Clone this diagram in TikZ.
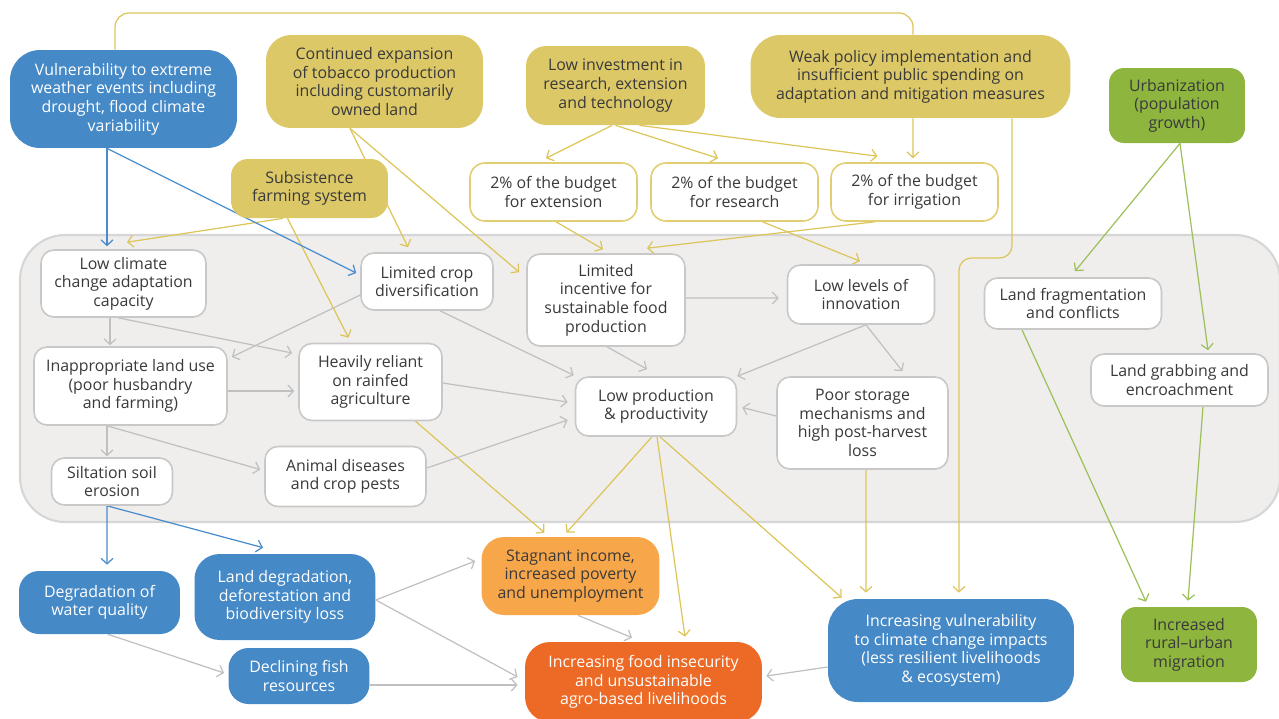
\documentclass[tikz,border=0pt]{standalone}
\usepackage{fontspec}
\setmainfont{Open Sans}
\usetikzlibrary{arrows.meta,calc}
\definecolor{sky}{HTML}{4589C7}
\definecolor{ochre}{HTML}{DCC867}
\definecolor{leaf}{HTML}{8EB53E}
\definecolor{amber}{HTML}{F7A74A}
\definecolor{flame}{HTML}{EC6A25}
\definecolor{haze}{HTML}{EFEEED}
\definecolor{hazeline}{HTML}{D6D6D6}
\definecolor{edge}{HTML}{C8C8C8}
\definecolor{ink}{HTML}{3A3A3B}
\definecolor{yline}{HTML}{DCC55A}
\definecolor{budgetline}{HTML}{E2CE72}
\definecolor{bline}{HTML}{4A8BCB}
\definecolor{gline}{HTML}{C0C0C0}
\definecolor{vline}{HTML}{9CC05A}
\pgfdeclarelayer{back}
\pgfdeclarelayer{links}
\pgfsetlayers{back,links,main}
\tikzset{link/.style={-{Straight Barb[length=1.1mm,width=2.4mm]},line width=0.7pt},
  ylink/.style={link,draw=yline},
  blink/.style={link,draw=bline},
  glink/.style={link,draw=gline},
  vlink/.style={link,draw=vline},
  box/.style={rounded corners=5mm,align=center,inner sep=2pt,font={\fontsize{9.05}{10.6}\selectfont}},
  bluebox/.style={box,fill=sky,text=white},
  ochrebox/.style={box,fill=ochre,text=ink},
  leafbox/.style={box,fill=leaf,text=ink,rounded corners=3mm},
  whitebox/.style={box,draw=edge,fill=white,line width=0.9pt,text=ink,rounded corners=2.6mm},
  budget/.style={whitebox,draw=budgetline,rounded corners=3mm,minimum width=3.34cm,minimum height=1.16cm}}

\begin{document}
\begin{tikzpicture}[x=0.02cm,y=-0.02cm]
\useasboundingbox (0,0) rectangle (1279,718);
\begin{pgfonlayer}{back}
\draw[fill=haze,draw=hazeline,line width=1.2pt,rounded corners=9mm] (20,235) rectangle (1280,522);
\end{pgfonlayer}
\node[bluebox,minimum width=4.54cm,minimum height=1.96cm,rounded corners=6mm] (vuln) at (123.5,99) {Vulnerability to extreme\\weather events including\\drought, flood climate\\variability};
\node[ochrebox,minimum width=4.34cm,minimum height=1.86cm] (tobacco) at (374.5,81.5) {Continued expansion\\of tobacco production\\including customarily\\owned land};
\node[ochrebox,minimum width=3.58cm,minimum height=1.58cm,rounded corners=4mm] (lowinv) at (615.5,85.5) {Low investment in\\research, extension\\and technology};
\node[ochrebox,minimum width=6.4cm,minimum height=1.66cm,rounded corners=6mm] (weakpol) at (910.5,76.5) {Weak policy implementation and\\insufficient public spending on\\adaptation and mitigation measures};
\node[leafbox,minimum width=2.72cm,minimum height=1.5cm] (urban) at (1177,105.5) {Urbanization\\(population\\growth)};
\node[ochrebox,minimum width=3.14cm,minimum height=1.18cm,rounded corners=3.4mm] (subsist) at (309.5,188.5) {Subsistence\\farming system};
\node[budget] (bext) at (553.5,192) {2\% of the budget\\for extension};
\node[budget] (bres) at (734.5,192) {2\% of the budget\\for research};
\node[budget] (birr) at (914.5,192) {2\% of the budget\\for irrigation};
\node[whitebox,minimum width=3.3cm,minimum height=1.34cm] (lowclim) at (123.5,283.5) {Low climate\\change adaptation\\capacity};
\node[whitebox,minimum width=2.64cm,minimum height=1.14cm] (limcrop) at (427,281.5) {Limited crop\\diversification};
\node[whitebox,minimum width=3.16cm,minimum height=1.84cm] (limincent) at (606,300) {Limited\\incentive for\\sustainable food\\production};
\node[whitebox,minimum width=2.94cm,minimum height=1.18cm] (lowinno) at (861,294.5) {Low levels of\\innovation};
\node[whitebox,minimum width=3.54cm,minimum height=1.02cm] (landfrag) at (1073,303.5) {Land fragmentation\\and conflicts};
\node[whitebox,minimum width=3.54cm,minimum height=1.04cm] (landgrab) at (1179.5,380) {Land grabbing and\\encroachment};
\node[whitebox,minimum width=3.86cm,minimum height=1.56cm] (inapp) at (130.5,386) {Inappropriate land use\\(poor husbandry\\and farming)};
\node[whitebox,minimum width=2.86cm,minimum height=1.54cm] (heavy) at (370.5,382) {Heavily reliant\\on rainfed\\agriculture};
\node[whitebox,minimum width=3.22cm,minimum height=1.18cm] (lowprod) at (656,406.5) {Low production\\\& productivity};
\node[whitebox,minimum width=3.42cm,minimum height=1.84cm] (poorstor) at (862.5,423) {Poor storage\\mechanisms and\\high post-harvest\\loss};
\node[whitebox,minimum width=2.42cm,minimum height=0.94cm] (silt) at (112,481.5) {Siltation soil\\erosion};
\node[whitebox,minimum width=3.22cm,minimum height=1.2cm] (animal) at (345.5,476.5) {Animal diseases\\and crop pests};
\node[bluebox,minimum width=3.22cm,minimum height=1.26cm,rounded corners=4mm] (degwater) at (99.5,602.5) {Degradation of\\water quality};
\node[bluebox,minimum width=3.62cm,minimum height=1.72cm] (landdeg) at (285,597) {Land degradation,\\deforestation and\\biodiversity loss};
\node[bluebox,minimum width=2.82cm,minimum height=1.12cm,rounded corners=4mm] (fish) at (299,676) {Declining fish\\resources};
\node[box,fill=amber,text=ink,minimum width=3.56cm,minimum height=1.56cm,rounded corners=4.5mm] (stagnant) at (570.5,576) {Stagnant income,\\increased poverty\\and unemployment};
\node[box,fill=flame,text=white,minimum width=4.74cm,minimum height=1.6cm] (foodinsec) at (643.5,682) {Increasing food insecurity\\and unsustainable\\agro-based livelihoods};
\node[bluebox,minimum width=4.92cm,minimum height=2.06cm,rounded corners=6mm] (incvuln) at (951,650.5) {Increasing vulnerability\\to climate change impacts\\(less resilient livelihoods\\\& ecosystem)};
\node[leafbox,minimum width=2.72cm,minimum height=1.5cm] (migration) at (1189,644.5) {Increased\\rural--urban\\migration};
\coordinate (topbend) at (913,13);
\coordinate (sidebend) at (959,258);
\begin{pgfonlayer}{links}
\draw[draw=yline,line width=0.7pt,rounded corners=8pt] ($(vuln.north)+(-8.5,0)$) |- (topbend) -- ($(weakpol.north)+(2.5,0)$);
\draw[ylink] ($(weakpol.south)+(2.5,0)$) -- ($(birr.north)+(-1.5,-4)$);
\draw[ylink,rounded corners=7pt] ($(weakpol.south)+(101.5,0)$) |- (sidebend) -- ($(incvuln.north)+(8,-6)$);
\draw[ylink] ($(poorstor.south)+(3.5,0)$) -- ($(incvuln.north)+(-85,-6)$);
\draw[ylink] ($(lowprod.south)+(4,0)$) -- ($(incvuln.north west)+(14,-1)$);
\draw[ylink] ($(lowprod.south)+(1,0)$) -- ($(foodinsec.north)+(41.5,-5)$);
\draw[ylink] ($(lowprod.south)+(-4,0)$) -- ($(stagnant.north)+(-4,-4)$);
\draw[ylink] ($(heavy.south)+(45,0)$) -- ($(stagnant.north)+(-26,-4)$);
\draw[ylink] ($(lowinv.south)+(-3.5,0)$) -- ($(bext.north)+(-7.5,-4)$);
\draw[ylink] (lowinv.south) -- ($(bres.north)+(-16.5,-4)$);
\draw[ylink] ($(lowinv.south)+(24,0)$) -- ($(birr.north)+(-37,-6)$);
\draw[ylink] ($(bext.south)+(2.5,0)$) -- ($(limincent.north)+(-3,-4)$);
\draw[ylink] ($(birr.south)+(-39.5,0)$) -- ($(limincent.north)+(41,-5)$);
\draw[ylink] ($(bres.south)+(28,0)$) -- ($(lowinno.north)+(-1,-3)$);
\draw[ylink] ($(tobacco.south)+(-24.5,0)$) -- ($(limcrop.north)+(-19,-5)$);
\draw[ylink] ($(tobacco.south)+(-24.5,0)$) -- ($(limincent.north west)+(-7,19)$);
\draw[ylink] ($(subsist.south)+(-26.5,0)$) -- ($(lowclim.north)+(3.5,-7)$);
\draw[ylink] ($(subsist.south)+(-22,0)$) -- ($(heavy.north)+(-22,-5)$);
\draw[blink] ($(vuln.south)+(-16.5,0)$) -- ($(lowclim.north)+(-16.5,-3)$);
\draw[blink] ($(vuln.south)+(-16.5,0)$) -- ($(limcrop.west)+(-4,-8.5)$);
\draw[blink] ($(silt.south)+(-5,0)$) -- ($(degwater.north)+(7.5,-6)$);
\draw[blink] ($(silt.south)+(-5,0)$) -- ($(landdeg.north)+(-22,-6)$);
\draw[glink] ($(lowclim.south)+(-13.5,0)$) -- ($(inapp.north)+(-20.5,-1)$);
\draw[glink] ($(lowclim.south)+(-5.5,0)$) -- ($(heavy.west)+(-6,-29)$);
\draw[glink] ($(limcrop.west)+(0,13.5)$) -- ($(inapp.east)+(4,-29)$);
\draw[glink] ($(inapp.east)+(0,5)$) -- ($(heavy.west)+(-4,9)$);
\draw[glink] ($(inapp.south)+(-23.5,0)$) -- ($(silt.north)+(-5,-1)$);
\draw[glink] ($(inapp.south)+(-23.5,0)$) -- ($(animal.west)+(-4,-7)$);
\draw[glink] ($(animal.east)+(0,-8.5)$) -- ($(lowprod.west)+(-7,13.5)$);
\draw[glink] ($(heavy.east)+(0,1)$) -- ($(lowprod.west)+(-7,-4.5)$);
\draw[glink] ($(limcrop.south)+(13,0)$) -- ($(lowprod.north west)+(-1,-1)$);
\draw[glink] ($(limincent.south)+(1,0)$) -- ($(lowprod.north)+(-9,-7)$);
\draw[glink] ($(limincent.east)+(0,-2)$) -- ($(lowinno.west)+(-8,3.5)$);
\draw[glink] ($(lowinno.south)+(5,0)$) -- (lowprod.north east);
\draw[glink] ($(lowinno.south)+(5,0)$) -- ($(poorstor.north)+(40,-5)$);
\draw[glink] ($(poorstor.west)+(0,-7)$) -- ($(lowprod.east)+(5,1)$);
\draw[glink] ($(landdeg.east)+(0,3)$) -- ($(stagnant.west)+(-6,-15)$);
\draw[glink] ($(landdeg.east)+(0,3)$) -- ($(foodinsec.west)+(-7,-5)$);
\draw[glink] ($(fish.east)+(0,9)$) -- ($(foodinsec.west)+(-7,3)$);
\draw[glink] ($(degwater.south)+(8.5,0)$) -- ($(fish.west)+(-4,-3)$);
\draw[glink] ($(stagnant.south)+(7.5,0)$) -- ($(foodinsec.north)+(-11.5,-4)$);
\draw[glink] ($(incvuln.west)+(0,16.5)$) -- ($(foodinsec.east)+(4,-6)$);
\draw[vlink] ($(urban.south)+(3,0)$) -- ($(landfrag.north)+(2,-6)$);
\draw[vlink] ($(urban.south)+(3,0)$) -- ($(landgrab.north)+(28.5,-3)$);
\draw[vlink] ($(landfrag.south)+(-51,0)$) -- ($(migration.north)+(-43,-5)$);
\draw[vlink] ($(landgrab.south)+(23.5,0)$) -- ($(migration.north)+(-1,-6)$);
\end{pgfonlayer}
\end{tikzpicture}
\end{document}
